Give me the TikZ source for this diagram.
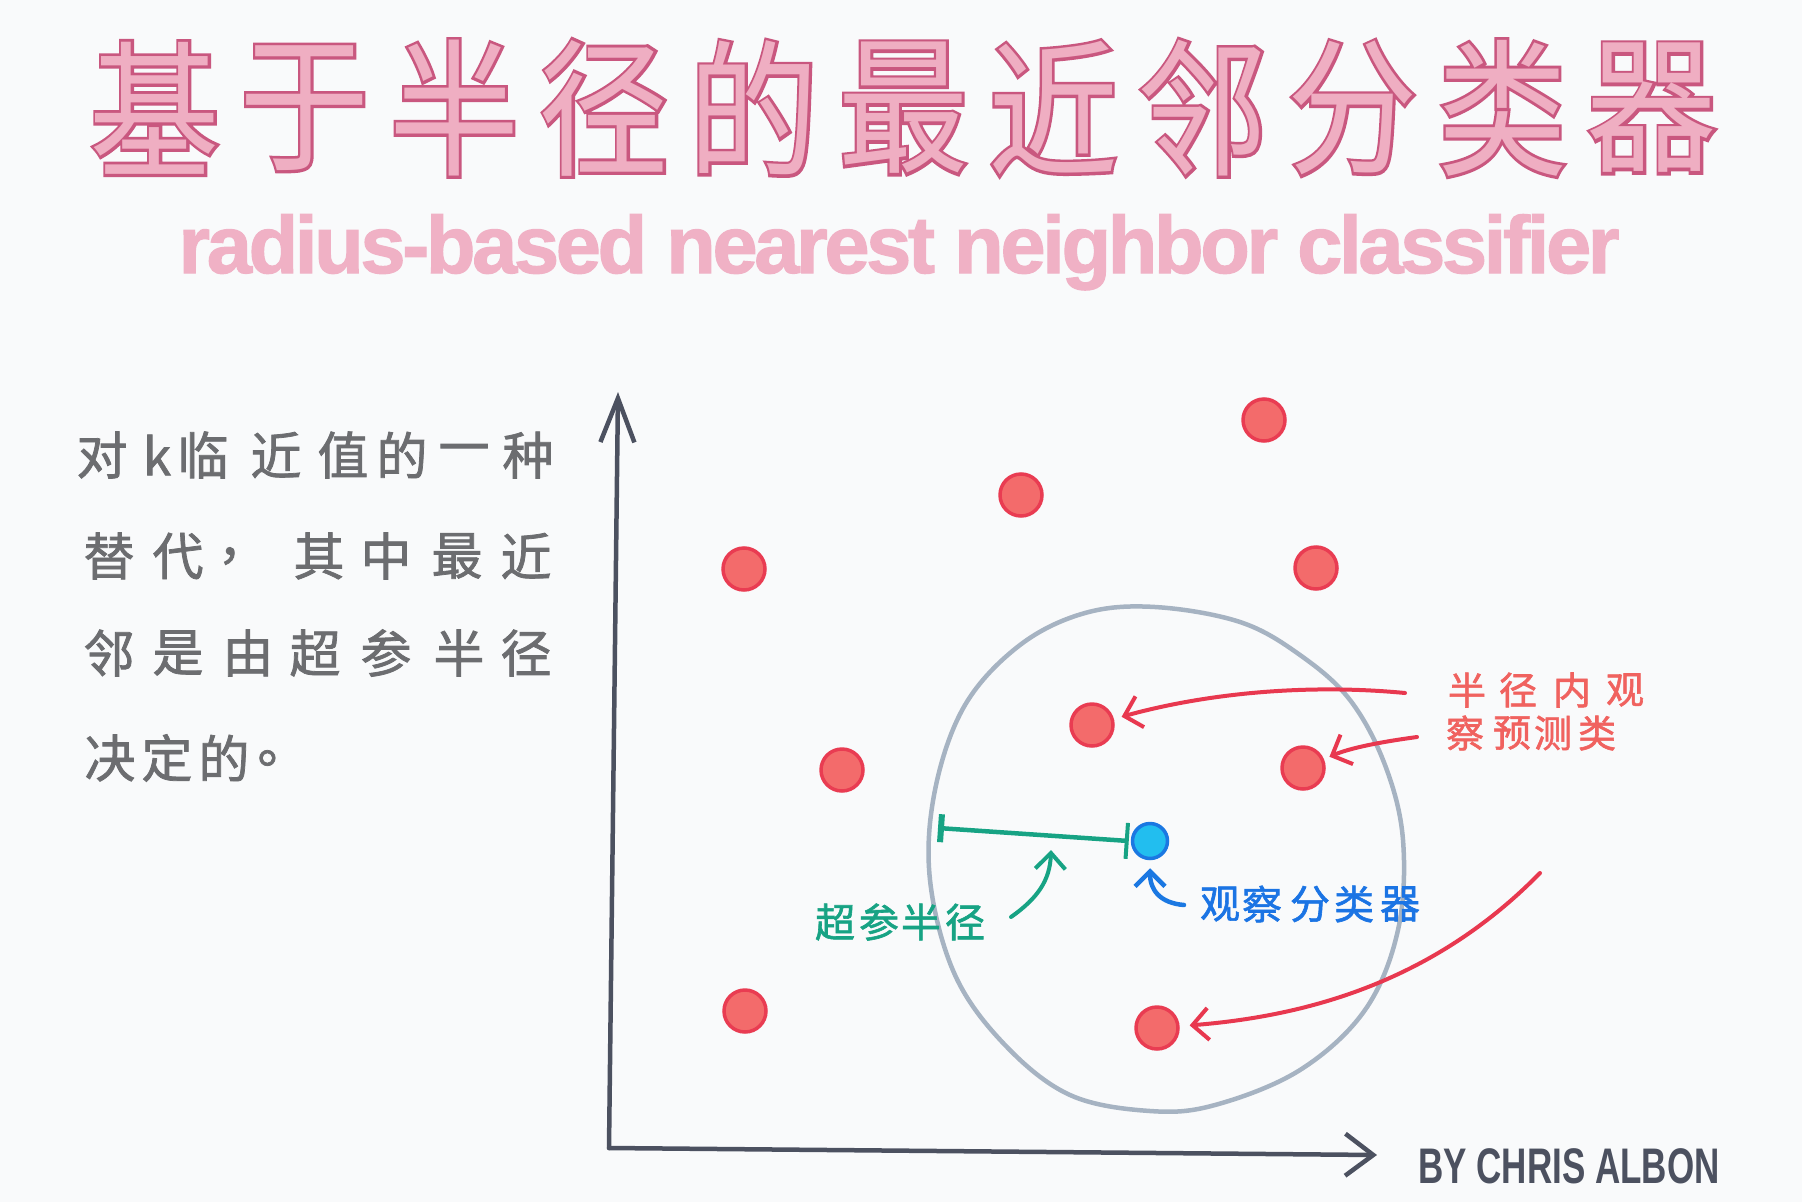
\documentclass[tikz,border=0pt]{standalone}
\usepackage{fontspec}
\newfontfamily\cjk{Noto Sans CJK SC}
\newfontfamily\cjkm{Noto Sans CJK SC}[FakeBold=1.5]
\newfontfamily\cjkout{Noto Sans CJK SC}[FakeBold=4]
\newfontfamily\subfont{Liberation Sans}[FakeBold=1.5,LetterSpace=-4]
\newfontfamily\sigfont{Liberation Sans}
\usetikzlibrary{arrows.meta}
\definecolor{bg}{HTML}{F9FAFB}
\definecolor{tfill}{HTML}{EFAEC2}
\definecolor{tline}{HTML}{C9577F}
\definecolor{subpink}{HTML}{F0B1C5}
\definecolor{bodygray}{HTML}{6C6D70}
\definecolor{axisgray}{HTML}{4C5160}
\definecolor{ringgray}{HTML}{A6B3C2}
\definecolor{ptfill}{HTML}{F36B6B}
\definecolor{ptline}{HTML}{E93C52}
\definecolor{arrred}{HTML}{E8384F}
\definecolor{lblred}{HTML}{F0625F}
\definecolor{teal}{HTML}{17A384}
\definecolor{bluefill}{HTML}{22BEEF}
\definecolor{blueline}{HTML}{1B78E2}
\definecolor{lblblue}{HTML}{1B74E4}
\begin{document}
\begin{tikzpicture}[x=1pt,y=-1pt,
  titleout/.style={text=tline,font=\cjkout\fontsize{148}{148}\selectfont,inner sep=0pt},
  titlein/.style={text=tfill,font=\cjk\fontsize{148}{148}\selectfont,inner sep=0pt},
  subtitle/.style={text=subpink,font=\subfont\bfseries\fontsize{81}{81}\selectfont,inner sep=0pt,anchor=base},
  body/.style={text=bodygray,font=\cjkm\fontsize{51}{51}\selectfont,inner sep=0pt},
  redlbl/.style={text=lblred,font=\cjkm\fontsize{38}{38}\selectfont,inner sep=0pt},
  greenlbl/.style={text=teal,font=\cjkm\fontsize{40}{40}\selectfont,inner sep=0pt},
  bluelbl/.style={text=lblblue,font=\cjkm\fontsize{40}{40}\selectfont,inner sep=0pt},
  redpt/.style={circle,minimum size=42pt,inner sep=0pt,fill=ptfill,draw=ptline,line width=3.5pt},
  bluept/.style={circle,minimum size=35pt,inner sep=0pt,fill=bluefill,draw=blueline,line width=3.5pt},
  axisline/.style={draw=axisgray,line width=4.5pt,line cap=round,line join=round},
  ring/.style={draw=ringgray,line width=4.5pt},
  redarrow/.style={draw=arrred,line width=4pt,line cap=round,-{Straight Barb[length=16pt,width=32pt,line width=4pt]}},
  greenarrow/.style={draw=teal,line width=4pt,line cap=round,-{Straight Barb[length=16pt,width=30pt,line width=4pt]}},
  bluearrow/.style={draw=blueline,line width=4.5pt,line cap=round,-{Straight Barb[length=15pt,width=30pt,line width=4.5pt]}},
  greenbar/.style={draw=teal,line width=4.5pt,{Bar[width=28pt,line width=6pt]}-{Bar[width=36pt,line width=4pt]}}
]
\fill[bg] (0,0) rectangle (1802,1202);
\useasboundingbox (0,0) rectangle (1802,1202);

% title
\foreach \c [count=\i] in {基,于,半,径,的,最,近,邻,分,类,器} {
  \pgfmathsetmacro\tx{155+149.7*(\i-1)}
  \node[titleout] (to\i) at (\tx,108) {\scalebox{0.88}[1]{\c}};
  \node[titlein] (ti\i) at (\tx,108) {\scalebox{0.88}[1]{\c}};
}

% subtitle
\node[subtitle] (sub) at (899,273) {radius-based nearest neighbor classifier};

% left text
\foreach \x/\c [count=\i] in {102/对,157/k,203/临,276/近,343/值,402/的,464/一,528/种} {
  \node[body] (la\i) at (\x,455) {\c};
}
\foreach \x/\c [count=\i] in {109/替,178/代,243/，,319/其,386/中,457/最,526/近} {
  \node[body] (lb\i) at (\x,556) {\c};
}
\foreach \x/\c [count=\i] in {109/邻,178/是,248/由,315/超,386/参,459/半,526/径} {
  \node[body] (lc\i) at (\x,653) {\c};
}
\foreach \x/\c [count=\i] in {110/决,167/定,224/的,283/。} {
  \node[body] (ld\i) at (\x,758) {\c};
}

% axes
\coordinate (O) at (609,1148);
\coordinate (ytop) at (618,392);
\coordinate (xend) at (1377,1155);
\draw[axisline,-{Straight Barb[length=44pt,width=34pt,line width=4.5pt]}] (O) -- (ytop);
\draw[axisline,-{Straight Barb[length=28pt,width=42pt,line width=4.5pt]}] (O) -- (xend);

% radius ring
\draw[ring] plot[smooth cycle, tension=0.6] coordinates {
 (1155,607) (1240,622) (1300,655) (1350,700) (1385,765) (1403,840) (1398,930)
 (1365,1010) (1300,1070) (1215,1105) (1150,1111) (1070,1095) (1005,1045)
 (955,975) (930,880) (935,790) (965,705) (1020,645) (1085,613)};

% points
\node[redpt] (p1) at (1264,420) {};
\node[redpt] (p2) at (1021,495) {};
\node[redpt] (p3) at (744,569) {};
\node[redpt] (p4) at (1316,568) {};
\node[redpt] (p5) at (1092,725) {};
\node[redpt] (p6) at (1303,768) {};
\node[redpt] (p7) at (842,770) {};
\node[redpt] (p8) at (745,1011) {};
\node[redpt] (p9) at (1157,1028) {};
\node[bluept] (pb) at (1150,841) {};

% radius measure
\coordinate (rl) at (938,828);
\draw[greenbar] (rl) -- ([xshift=-2pt]pb.west);

% red label
\foreach \x/\c [count=\i] in {1467/半,1518/径,1572/内,1625/观} {
  \node[redlbl] (ra\i) at (\x,690) {\c};
}
\foreach \x/\c [count=\i] in {1465/察,1512/预,1553/测,1597/类} {
  \node[redlbl] (rb\i) at (\x,733) {\c};
}
\coordinate (r1s) at (1405,693);
\coordinate (r2s) at (1417,737);
\coordinate (r3s) at (1540,873);
\draw[redarrow,shorten >=8pt] (r1s) .. controls (1300,683) and (1200,695) .. (p5);
\draw[redarrow,shorten >=6pt] (r2s) .. controls (1380,742) and (1350,748) .. (p6);
\draw[redarrow,shorten >=10pt] (r3s) .. controls (1440,975) and (1320,1015) .. (p9);

% green label and arrow
\foreach \x/\c [count=\i] in {835/超,879/参,921/半,965/径} {
  \node[greenlbl] (g\i) at (\x,922) {\c};
}
\coordinate (gs) at (1011,917);
\coordinate (gt) at (1051,850);
\draw[greenarrow] (gs) .. controls (1038,898) and (1050,880) .. (gt);

% blue label and arrow
\foreach \x/\c [count=\i] in {1220/观,1262/察,1310/分,1354/类,1400/器} {
  \node[bluelbl] (b\i) at (\x,904) {\c};
}
\coordinate (bs) at (1184,905);
\draw[bluearrow,shorten >=8pt] (bs) .. controls (1160,903) and (1150,890) .. (pb);

% signature
\node[text=axisgray,font=\sigfont\bfseries\fontsize{50}{50}\selectfont,inner sep=0pt,anchor=west] (sig) at (1418,1166) {\scalebox{0.7}[1]{BY CHRIS ALBON}};
\end{tikzpicture}
\end{document}
